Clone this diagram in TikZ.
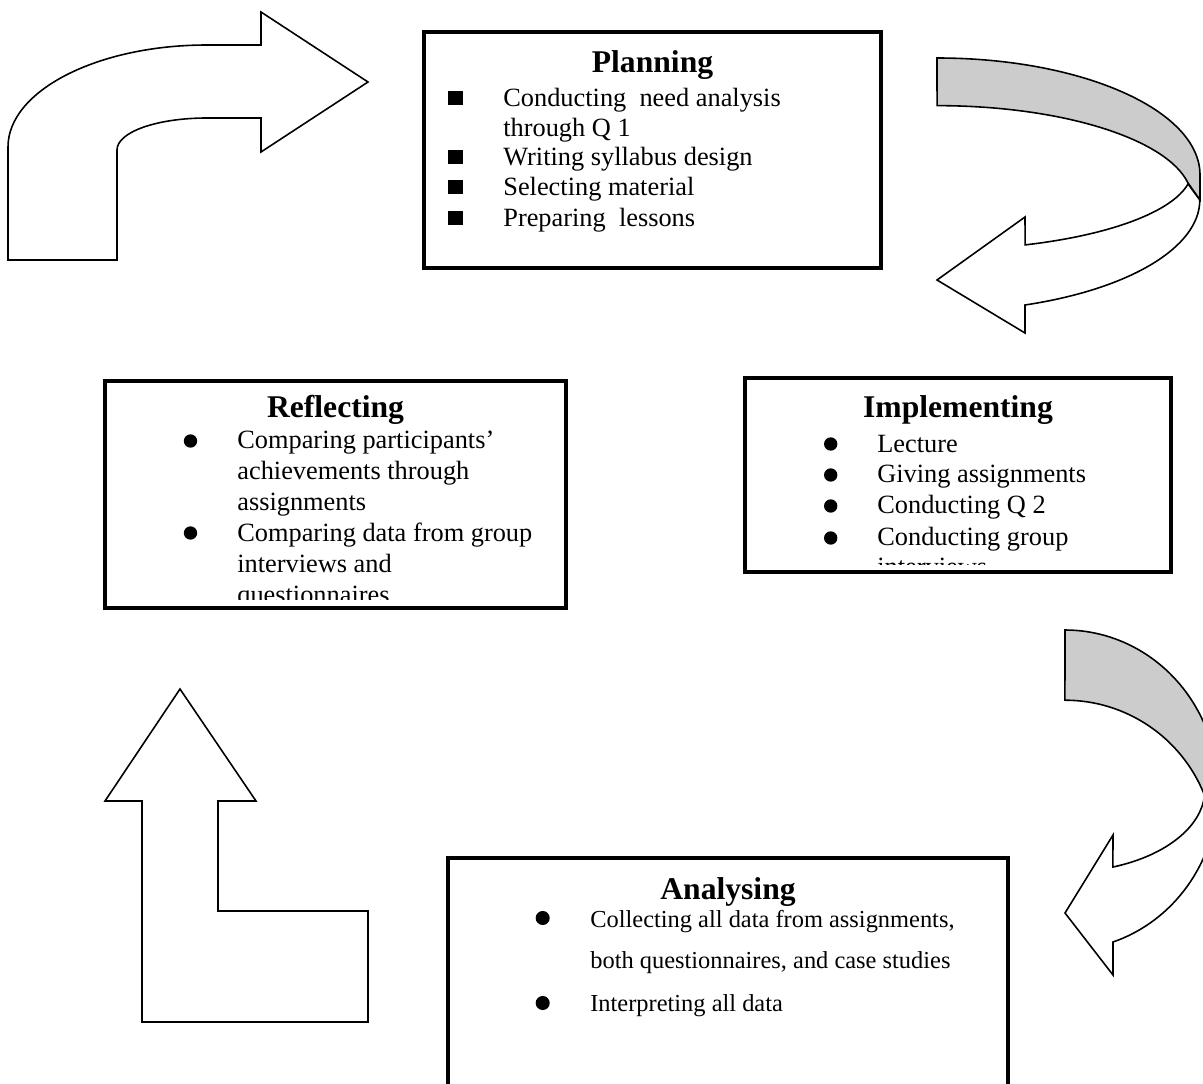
\documentclass[tikz,border=0pt]{standalone}
\usepackage{fontspec}
\setmainfont{Liberation Serif}
\newcommand{\itemsize}{\fontsize{15}{17.6}\selectfont}
\newcommand{\headsize}{\fontsize{18}{21}\selectfont\bfseries}
\newcommand{\smallsize}{\fontsize{13.9}{16}\selectfont}
\tikzset{
  framebox/.style={draw=black,line width=2pt},
  blockarrow/.style={draw=black,line width=0.9pt,fill=white},
  backside/.style={draw=black,line width=0.9pt,fill=gray!40},
  head/.style={anchor=base,inner sep=0pt,font=\headsize},
  txt/.style={anchor=base west,inner sep=0pt,font=\itemsize},
  sqbullet/.style={rectangle,fill=black,inner sep=0pt,minimum size=8.5pt},
  dotbullet/.style={circle,fill=black,inner sep=0pt,minimum size=7.6pt}
}

\begin{document}
\begin{tikzpicture}[x=0.02cm,y=-0.02cm]
    \clip (0,0) rectangle (1203,1084);

    % block arrows
    \draw[blockarrow] (8,260) -- (8,147) .. controls (8,91) and (97,45) .. (207,45)
        -- (261,45) -- (261,12) -- (368,82) -- (261,152) -- (261,118) -- (207,118)
        .. controls (157,118) and (117,132) .. (117,150) -- (117,260) -- cycle;

    \draw[backside] (937,58) arc[start angle=-90,end angle=0,x radius=263,y radius=117]
        -- (1200,200) -- (1188,183) arc[start angle=-10.2,end angle=-90,x radius=255,y radius=94] -- cycle;
    \draw[blockarrow] (1188,184) arc[start angle=10.2,end angle=69.8,x radius=255,y radius=80]
        -- (1025,217) -- (937,280) -- (1025,333) -- (1025,305)
        arc[start angle=70.4,end angle=0,x radius=263,y radius=111.5] -- cycle;

    \draw[backside] (1065,630) arc[start angle=-90,end angle=10,x radius=153,y radius=160]
        -- (1204,794) arc[start angle=-22,end angle=-90,radius=150] -- cycle;
    \draw[blockarrow] (1204,798.6) arc[start angle=6,end angle=69.9,x radius=140,y radius=82]
        -- (1113,835) -- (1065,913) -- (1113,975) -- (1113,942)
        arc[start angle=71.7,end angle=10,x radius=153,y radius=160] -- cycle;

    \draw[blockarrow] (180,689) -- (256,801) -- (218,801) -- (218,911) -- (368,911)
        -- (368,1022) -- (142,1022) -- (142,801) -- (105,801) -- cycle;

    % Planning
    \draw[framebox] (424,32) rectangle (881,268);
    \node[head] (plan) at (652.5,73) {Planning};
    \node[sqbullet] (planb1) at (455.5,98) {};
    \node[sqbullet] (planb2) at (455.5,157) {};
    \node[sqbullet] (planb3) at (455.5,187) {};
    \node[sqbullet] (planb4) at (455.5,218) {};
    \node[txt] (plan1) at (503,107) {Conducting\ \ need analysis};
    \node[txt] (plan1b) at (503,137) {through Q 1};
    \node[txt] (plan2) at (503,166) {Writing syllabus design};
    \node[txt] (plan3) at (503,196) {Selecting material};
    \node[txt] (plan4) at (503,227) {Preparing\ \ lessons};

    % Reflecting
    \draw[framebox] (105,381) rectangle (566,608);
    \node[head] (refl) at (335.5,418) {Reflecting};
    \begin{scope}
        \clip (105,381) rectangle (566,599.5);
        \node[dotbullet] (reflb1) at (190.5,441) {};
        \node[dotbullet] (reflb2) at (190.5,533) {};
        \node[txt] (refl1) at (237,448) {Comparing participants’};
        \node[txt] (refl1b) at (237,479) {achievements through};
        \node[txt] (refl1c) at (237,510) {assignments};
        \node[txt] (refl2) at (237,541) {Comparing data from group};
        \node[txt] (refl2b) at (237,572) {interviews and};
        \node[txt] (refl2c) at (237,603) {questionnaires};
    \end{scope}

    % Implementing
    \draw[framebox] (745,378) rectangle (1171,572);
    \node[head] (impl) at (958,417) {Implementing};
    \begin{scope}
        \clip (745,378) rectangle (1171,564);
        \node[dotbullet] (implb1) at (830.7,444) {};
        \node[dotbullet] (implb2) at (830.7,475) {};
        \node[dotbullet] (implb3) at (830.7,506) {};
        \node[dotbullet] (implb4) at (830.7,538) {};
        \node[txt] (impl1) at (877,452) {Lecture};
        \node[txt] (impl2) at (877,482) {Giving assignments};
        \node[txt] (impl3) at (877,513) {Conducting Q 2};
        \node[txt] (impl4) at (877,545) {Conducting group};
        \node[txt] (impl4b) at (877,575) {interviews};
    \end{scope}

    % Analysing
    \draw[framebox] (448,858) rectangle (1008,1100);
    \node[head] (anal) at (728,899) {Analysing};
    \node[dotbullet,minimum size=8pt] (analb1) at (542.7,918) {};
    \node[dotbullet,minimum size=8pt] (analb2) at (542.7,1003) {};
    \node[txt,font=\smallsize] (anal1) at (590,927) {Collecting all data from assignments,};
    \node[txt,font=\smallsize] (anal1b) at (590,968) {both questionnaires, and case studies};
    \node[txt,font=\smallsize] (anal2) at (590,1011) {Interpreting all data};
\end{tikzpicture}
\end{document}
